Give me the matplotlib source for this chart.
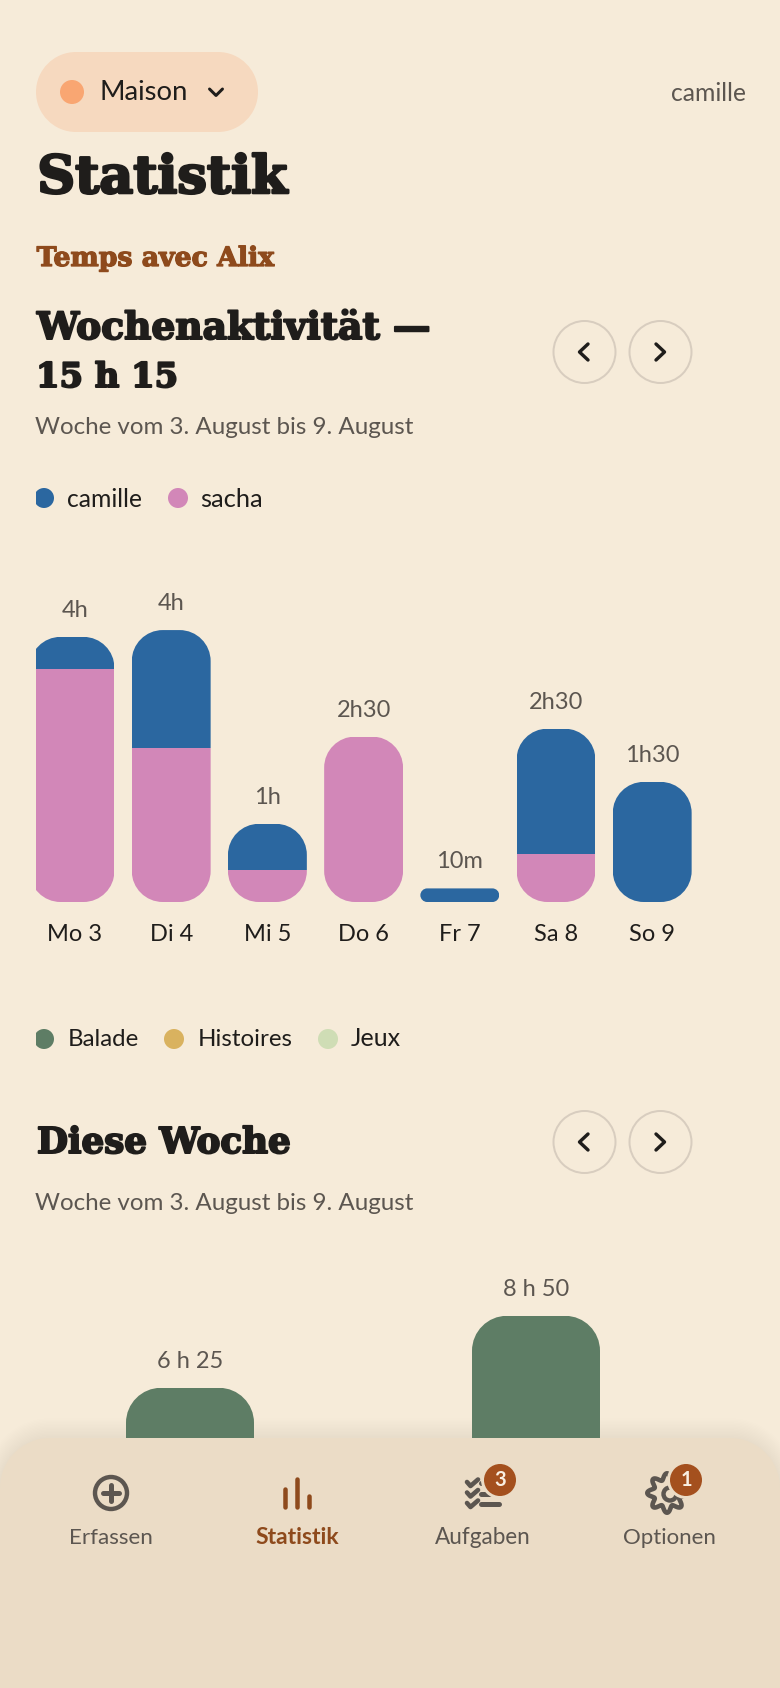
import matplotlib
matplotlib.use("Agg")
import matplotlib.pyplot as plt
from matplotlib.patches import PathPatch, Circle, Rectangle
from matplotlib.path import Path
from matplotlib.transforms import IdentityTransform
import matplotlib.patheffects as pe
import numpy as np

W, H = 780, 1688
BG = "#F6EBD9"; PANEL = "#EBDCC6"; BLUE = "#2B67A0"; PINK = "#D287B8"; GREEN = "#5E7D65"
ORANGE = "#F9A672"; PILL = "#F6D9BF"; DARK = "#1F1D1B"; BROWN = "#8E4A1C"; GREY = "#5C5650"
BADGE = "#A4501E"; RING = "#D8CDBF"; GOLD = "#D9B25F"; PALE = "#CFDDB5"
BODY = "Lato"; SERIF = "DejaVu Serif"

days = ["Mo 3", "Di 4", "Mi 5", "Do 6", "Fr 7", "Sa 8", "So 9"]
sacha_min = [206, 136, 28, 146, 0, 42, 0]
camille_min = [28, 104, 41, 0, 12, 111, 106]
day_labels = ["4h", "4h", "1h", "2h30", "10m", "2h30", "1h30"]
week_groups = ["A", "B"]
week_min = [385, 530]
week_labels = ["6 h 25", "8 h 50"]
nav_items = ["Erfassen", "Statistik", "Aufgaben", "Optionen"]

fig = plt.figure(figsize=(W / 100, H / 100), dpi=100, facecolor=BG)


def ax_px(l, t, r, b, z):
    return fig.add_axes([l / W, 1 - b / H, (r - l) / W, (b - t) / H], zorder=z)


top = ax_px(0, 0, W, H, 5)
top.set_xlim(0, W); top.set_ylim(H, 0); top.axis("off"); top.patch.set_alpha(0)
renderer = fig.canvas.get_renderer()


def rr_path(x, y, w, h, r):
    k = 0.5523 * r
    x1, y1 = x + w, y + h
    v = [(x + r, y), (x1 - r, y), (x1 - r + k, y), (x1, y + r - k), (x1, y + r), (x1, y1 - r),
         (x1, y1 - r + k), (x1 - r + k, y1), (x1 - r, y1), (x + r, y1), (x + r - k, y1), (x, y1 - r + k),
         (x, y1 - r), (x, y + r), (x, y + r - k), (x + r - k, y), (x + r, y), (x + r, y)]
    c = [Path.MOVETO, Path.LINETO, Path.CURVE4, Path.CURVE4, Path.CURVE4, Path.LINETO,
         Path.CURVE4, Path.CURVE4, Path.CURVE4, Path.LINETO, Path.CURVE4, Path.CURVE4, Path.CURVE4,
         Path.LINETO, Path.CURVE4, Path.CURVE4, Path.CURVE4, Path.CLOSEPOLY]
    return Path(v, c)


def fit(s, x0, base, x1, color=DARK, family=BODY, weight="normal", stroke=0, z=10):
    t = top.text(x0, base, s, family=family, weight=weight, color=color, va="baseline", ha="left",
                 fontsize=20, zorder=z)
    w = t.get_window_extent(renderer).width
    t.set_fontsize(20 * (x1 - x0 - stroke) / w)
    t.set_x(x0 + stroke / 2)
    if stroke:
        t.set_path_effects([pe.withStroke(linewidth=stroke * 0.72, foreground=color)])
    return t


def lines(xs, ys, color=DARK, lw=3, z=10):
    top.plot(xs, ys, color=color, lw=lw * 0.72, solid_capstyle="round", solid_joinstyle="round", zorder=z)


def rounded_clip(ax, bars, r, extend_left=0):
    ex = [b.get_window_extent(renderer) for b in bars if b.get_height() > 0]
    x0 = min(e.x0 for e in ex) - extend_left; x1 = max(e.x1 for e in ex)
    y0 = min(e.y0 for e in ex); y1 = max(e.y1 for e in ex)
    rad = min(r, (y1 - y0) / 2)
    p = PathPatch(rr_path(x0, y0, x1 - x0, y1 - y0, rad), transform=IdentityTransform())
    for b in bars:
        b.set_clip_path(p)


# ---------- weekly stacked chart ----------
STEP = 96.2
ax1 = ax_px(75 - STEP / 2, 560, 75 + 6.5 * STEP, 902, 1)
ax1.set_xlim(-0.5, 6.5); ax1.set_ylim(0, 342 / 1.133)
ax1.patch.set_alpha(0)
for s in ax1.spines.values():
    s.set_visible(False)
ax1.set_yticks([])
xpos = np.arange(len(days))
b_s = ax1.bar(xpos, sacha_min, width=0.82, color=PINK, linewidth=0)
b_c = ax1.bar(xpos, camille_min, width=0.82, bottom=sacha_min, color=BLUE, linewidth=0)
ax1.set_xticks(xpos, days, family=BODY, fontsize=17, color=DARK)
ax1.tick_params(axis="x", length=0, pad=15.5)
fig.canvas.draw()
renderer = fig.canvas.get_renderer()
for i in range(len(days)):
    rounded_clip(ax1, [b_s[i], b_c[i]], 31, extend_left=6 if i == 0 else 0)
    ax1.annotate(day_labels[i], (xpos[i], sacha_min[i] + camille_min[i]), xytext=(0, 20 * 0.72),
                 textcoords="offset points", ha="center", va="baseline", family=BODY, fontsize=17, color=GREY)

# ---------- second chart ----------
ax2 = ax_px(190 - 173, 1200, 536 + 173, 1579, 1)
ax2.set_xlim(-0.5, 1.5); ax2.set_ylim(0, 379 / 0.4966)
ax2.axis("off")
b2 = ax2.bar(np.arange(2), week_min, width=128 / 346, color=GREEN, linewidth=0)
for i, b in enumerate(b2):
    rounded_clip(ax2, [b], 35)
    ax2.annotate(week_labels[i], (i, week_min[i]), xytext=(0, 20 * 0.72), textcoords="offset points",
                 ha="center", va="baseline", family=BODY, fontsize=17, color=GREY)

# ---------- left clipping of the scroll area ----------
top.add_patch(Rectangle((0, 480), 36, 580, facecolor=BG, edgecolor="none", zorder=3))

# ---------- header ----------
top.add_patch(PathPatch(rr_path(36, 52, 222, 80, 40), facecolor=PILL, edgecolor="none", zorder=2))
top.add_patch(Circle((72, 92), 12, facecolor=ORANGE, edgecolor="none", zorder=4))
fit("Maison", 100, 100, 188.5)
lines([209.5, 216, 222.5], [89, 95.5, 89], DARK, 3)
fit("camille", 670.5, 101, 745.5, GREY)

fit("Statistik", 36, 193, 289, DARK, SERIF, "bold", 2.6)
fit("Temps avec Alix", 36, 266, 275, BROWN, SERIF, "bold", 1.3)
fit("Wochenaktivität —", 36, 339, 432, DARK, SERIF, "bold", 2.0)
fit("15 h 15", 35, 387, 179, DARK, SERIF, "bold", 2.0)
fit("Woche vom 3. August bis 9. August", 35, 434.5, 414, GREY)
fit("Diese Woche", 36, 1153, 292, DARK, SERIF, "bold", 2.0)
fit("Woche vom 3. August bis 9. August", 35, 1210, 414, GREY)

for cy in (352, 1142):
    top.add_patch(Circle((584.5, cy), 31, facecolor="none", edgecolor=RING, lw=2 * 0.72, zorder=4))
    top.add_patch(Circle((660.5, cy), 31, facecolor="none", edgecolor=RING, lw=2 * 0.72, zorder=4))
    lines([588, 579.5, 588], [cy - 8, cy, cy + 8], DARK, 3.4)
    lines([656, 664.5, 656], [cy - 8, cy, cy + 8], DARK, 3.4)

# ---------- legends ----------
top.add_patch(Circle((44, 498), 10, facecolor=BLUE, edgecolor="none", zorder=2))
fit("camille", 67, 507, 142)
top.add_patch(Circle((178, 498), 10, facecolor=PINK, edgecolor="none", zorder=4))
fit("sacha", 200, 507, 262.5)
top.add_patch(Circle((44, 1039), 10, facecolor=GREEN, edgecolor="none", zorder=2))
fit("Balade", 67.5, 1046.5, 138.5)
top.add_patch(Circle((174, 1039), 10, facecolor=GOLD, edgecolor="none", zorder=4))
fit("Histoires", 197.5, 1046.5, 292.5)
top.add_patch(Circle((328, 1039), 10, facecolor=PALE, edgecolor="none", zorder=4))
fit("Jeux", 351, 1046.5, 401.5)

# ---------- bottom panel ----------
for k in range(14, 0, -1):
    top.add_patch(PathPatch(rr_path(-k, 1438 - k * 1.4, W + 2 * k, 320, 50 + k),
                            facecolor="#B89E7A", alpha=0.007, edgecolor="none", zorder=5))
top.add_patch(PathPatch(rr_path(0, 1438, W, 320, 50), facecolor=PANEL, edgecolor="none", zorder=6))

fit(nav_items[0], 69, 1544, 153, GREY, z=10)
fit(nav_items[1], 255, 1544, 339, BROWN, weight="bold", z=10)
fit(nav_items[2], 435, 1544, 531, GREY, z=10)
fit(nav_items[3], 623, 1544, 716, GREY, z=10)

# plus icon
top.add_patch(Circle((111, 1493), 16, facecolor="none", edgecolor=GREY, lw=4.4 * 0.72, zorder=8))
lines([103, 119], [1493, 1493], GREY, 5, z=8)
lines([111, 111], [1485, 1501], GREY, 5, z=8)
# stats icon
for xx, yt in zip((285, 297, 309), (1487, 1477, 1494)):
    lines([xx, xx], [yt + 2, 1507], BROWN, 4.5, z=8)
# tasks icon
for cy in (1483, 1493.5, 1504):
    lines([467, 470.5, 478], [cy - 1, cy + 3, cy - 3.5], GREY, 4.6, z=7)
    lines([481, 499], [cy, cy], GREY, 5, z=7)
# gear icon
th = np.linspace(0, 2 * np.pi, 400)
rg = 16.5 + 3.2 * np.cos(8 * th)
top.plot(667 + rg * np.cos(th), 1493 + rg * np.sin(th), color=GREY, lw=4.6 * 0.72, zorder=7)
top.add_patch(Circle((670, 1494), 6.5, facecolor="none", edgecolor=GREY, lw=4.4 * 0.72, zorder=7))
# badges
for cx, s in ((500, "3"), (686, "1")):
    top.add_patch(Circle((cx, 1480), 19, facecolor=PANEL, edgecolor="none", zorder=8))
    top.add_patch(Circle((cx, 1480), 16, facecolor=BADGE, edgecolor="none", zorder=9))
    top.text(cx, 1486.5, s, family=BODY, weight="bold", fontsize=14.5, color="#F9EFE2", ha="center",
             va="baseline", zorder=10)

fig.savefig("out.png", dpi=100, facecolor=BG)
